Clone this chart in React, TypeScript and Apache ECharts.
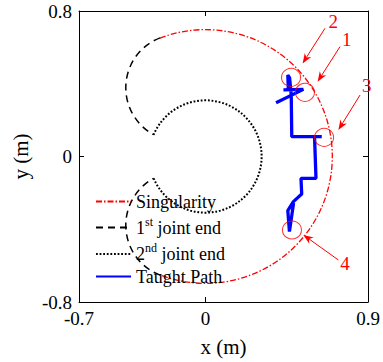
import React, { useEffect, useRef } from 'react';
import * as echarts from 'echarts';

const FONT = '"Liberation Serif", "Times New Roman", serif';
const RED = '#ff0000';
const BLUE = '#0000ff';

const xTicks = [-0.7, 0, 0.9];
const yTicks = [-0.8, 0, 0.8];
const xRange = [-0.7, 0.9];
const yRange = [-0.8, 0.8];

const legendNames = ['Singularity', '1st joint end', '2nd joint end', 'Taught Path'];

// arcs: [centerX, centerY, radius, startAngleDeg, endAngleDeg]
const singularityArcs = [[0, 0, 0.7, 111, -111]];
const joint1Arcs = [
  [-0.145, 0.378, 0.295, 111, 241.4],
  [-0.145, -0.378, 0.295, -111, -241.4],
];
const joint2Arcs = [[0, 0, 0.31, 157.4, -157.4]];

// taught path [x, y]
const taughtPath = [
  [0.488, -0.256],
  [0.465, -0.413],
  [0.456, -0.298],
  [0.487, -0.248],
  [0.533, -0.206],
  [0.529, -0.12],
  [0.612, -0.12],
  [0.604, 0.109],
  [0.644, 0.109],
  [0.478, 0.109],
  [0.475, 0.338],
  [0.466, 0.432],
  [0.456, 0.448],
  [0.459, 0.366],
  [0.432, 0.366],
  [0.542, 0.369],
  [0.391, 0.296],
];

// highlighted spots
const circleMarks = [
  [0.474, 0.435],
  [0.551, 0.353],
  [0.657, 0.105],
  [0.479, -0.404],
];
// arrows [tailX, tailY, headX, headY]
const arrows = [
  [0.662, 0.705, 0.538, 0.512],
  [0.745, 0.604, 0.621, 0.411],
  [0.856, 0.338, 0.736, 0.146],
  [0.736, -0.569, 0.542, -0.431],
];
const labelPos = [
  [0.708, 0.742],
  [0.782, 0.644],
  [0.893, 0.393],
  [0.773, -0.587],
];
const labelText = ['2', '1', '3', '4'];

const arcRender = (color: string, width: number, dash: number[]) => (params: any, api: any) => {
  const c = api.coord([api.value(0), api.value(1)]);
  const s = api.size([api.value(2), api.value(2)]);
  const r = (s[0] + s[1]) / 2;
  const a0 = api.value(3);
  const a1 = api.value(4);
  return {
    type: 'arc',
    shape: {
      cx: c[0],
      cy: c[1],
      r,
      startAngle: (-a0 * Math.PI) / 180,
      endAngle: (-a1 * Math.PI) / 180,
      clockwise: a1 < a0,
    },
    style: { stroke: color, fill: 'none', lineWidth: width, lineDash: dash },
    silent: true,
  };
};

const lineStyles: Record<string, any> = {
  Singularity: { color: RED, width: 1.3, type: [6, 2, 1.5, 2] },
  '1st joint end': { color: '#000', width: 1.5, type: [7, 5] },
  '2nd joint end': { color: '#000', width: 2, type: [1.8, 1.8] },
};

function axis(pos: string, range: number[], ticks: number[], showLabel: boolean, name?: string, nameGap?: number) {
  return {
    type: 'value',
    position: pos,
    min: range[0],
    max: range[1],
    name: name || '',
    nameLocation: 'middle',
    nameGap: nameGap || 0,
    nameTextStyle: { fontFamily: FONT, fontSize: 21, color: '#000' },
    axisLine: { show: true, onZero: false, lineStyle: { color: '#000', width: 1 } },
    axisTick: { show: true, inside: true, length: 5, customValues: ticks, lineStyle: { color: '#000', width: 1 } },
    axisLabel: {
      show: showLabel,
      customValues: ticks,
      fontFamily: FONT,
      fontSize: 19,
      color: '#000',
      margin: 7,
      showMinLabel: true,
      showMaxLabel: true,
      hideOverlap: false,
      formatter: (v: number) => String(v),
    },
    splitLine: { show: false },
  };
}

const legendRowCenters = [201.5, 227.5, 254, 276.5];

function legendFor(name: string, i: number) {
  return {
    data: [name],
    orient: 'vertical',
    left: 95,
    top: legendRowCenters[i] - 12,
    padding: 0,
    itemGap: 0,
    itemWidth: 35,
    itemHeight: 2,
    selectedMode: false,
    itemStyle: { opacity: 0 },
    formatter: (n: string) =>
      n === '1st joint end' ? '1{sup|st} joint end' : n === '2nd joint end' ? '2{sup|nd} joint end' : n,
    textStyle: {
      fontFamily: FONT,
      fontSize: 18,
      color: '#000',
      lineHeight: 24,
      rich: {
        sup: { fontFamily: FONT, fontSize: 12, lineHeight: 14, verticalAlign: 'top', color: '#000' },
      },
    },
  };
}

export default function App() {
  const ref = useRef<HTMLDivElement>(null);
  useEffect(() => {
    if (!ref.current) return;
    const chart = echarts.init(ref.current, undefined, { renderer: 'svg' });
    chart.setOption({
      animation: false,
      backgroundColor: '#fff',
      grid: { left: 79, right: 15, top: 11, bottom: 60, containLabel: false, outerBoundsMode: 'none' },
      xAxis: [
        axis('bottom', xRange, xTicks, true, 'x (m)', 34),
        axis('top', xRange, xTicks, false),
      ],
      yAxis: [
        axis('left', yRange, yTicks, true, 'y (m)', 40),
        axis('right', yRange, yTicks, false),
      ],
      legend: legendNames.map((n, i) => legendFor(n, i)),
      series: [
        // legend proxies
        { type: 'line', name: 'Singularity', data: [], symbol: 'none', lineStyle: lineStyles['Singularity'], itemStyle: { color: RED } },
        { type: 'line', name: '1st joint end', data: [], symbol: 'none', lineStyle: lineStyles['1st joint end'], itemStyle: { color: '#000' } },
        { type: 'line', name: '2nd joint end', data: [], symbol: 'none', lineStyle: lineStyles['2nd joint end'], itemStyle: { color: '#000' } },
        // arcs
        {
          type: 'custom', name: 'arc-sing', coordinateSystem: 'cartesian2d', data: singularityArcs,
          encode: { x: 0, y: 1 }, renderItem: arcRender(RED, 1.3, [6, 2, 1.5, 2]), silent: true, z: 2,
        },
        {
          type: 'custom', name: 'arc-j1', coordinateSystem: 'cartesian2d', data: joint1Arcs,
          encode: { x: 0, y: 1 }, renderItem: arcRender('#000', 1.5, [7, 5]), silent: true, z: 2,
        },
        {
          type: 'custom', name: 'arc-j2', coordinateSystem: 'cartesian2d', data: joint2Arcs,
          encode: { x: 0, y: 1 }, renderItem: arcRender('#000', 2, [1.8, 1.8]), silent: true, z: 2,
        },
        {
          type: 'line', name: 'Taught Path', data: taughtPath, symbol: 'none',
          lineStyle: { color: BLUE, width: 3.3 }, itemStyle: { color: BLUE }, z: 3, silent: true,
        },
        {
          type: 'scatter', name: 'spots', data: circleMarks, symbol: 'circle', symbolSize: [19, 18],
          itemStyle: { color: 'rgba(0,0,0,0)', borderColor: RED, borderWidth: 1 }, silent: true, z: 5,
        },
        {
          type: 'custom', name: 'arrows', coordinateSystem: 'cartesian2d', data: arrows,
          encode: { x: [0, 2], y: [1, 3] }, silent: true, z: 5,
          renderItem: (params: any, api: any) => {
            const p0 = api.coord([api.value(0), api.value(1)]);
            const p1 = api.coord([api.value(2), api.value(3)]);
            const dx = p1[0] - p0[0];
            const dy = p1[1] - p0[1];
            const len = Math.hypot(dx, dy);
            const ux = dx / len;
            const uy = dy / len;
            const hl = 10;
            const hw = 3.8;
            const bx = p1[0] - ux * hl;
            const by = p1[1] - uy * hl;
            return {
              type: 'group',
              children: [
                { type: 'line', shape: { x1: p0[0], y1: p0[1], x2: bx + ux * 3, y2: by + uy * 3 }, style: { stroke: RED, lineWidth: 1 } },
                {
                  type: 'polygon',
                  shape: {
                    points: [
                      [p1[0], p1[1]],
                      [bx - uy * hw, by + ux * hw],
                      [bx + ux * 3, by + uy * 3],
                      [bx + uy * hw, by - ux * hw],
                    ],
                  },
                  style: { fill: RED },
                },
              ],
            };
          },
        },
        {
          type: 'custom', name: 'labels', coordinateSystem: 'cartesian2d', data: labelPos,
          encode: { x: 0, y: 1 }, silent: true, z: 5,
          renderItem: (params: any, api: any) => {
            const p = api.coord([api.value(0), api.value(1)]);
            return {
              type: 'text',
              x: p[0],
              y: p[1],
              style: {
                text: labelText[params.dataIndex],
                fill: RED,
                fontSize: 19,
                fontFamily: FONT,
                align: 'center',
                verticalAlign: 'middle',
                textAlign: 'center',
                textVerticalAlign: 'middle',
              },
            };
          },
        },
      ],
    });
    return () => chart.dispose();
  }, []);
  return <div ref={ref} style={{ position: 'fixed', left: 0, top: 0, width: 383, height: 362 }} />;
}
